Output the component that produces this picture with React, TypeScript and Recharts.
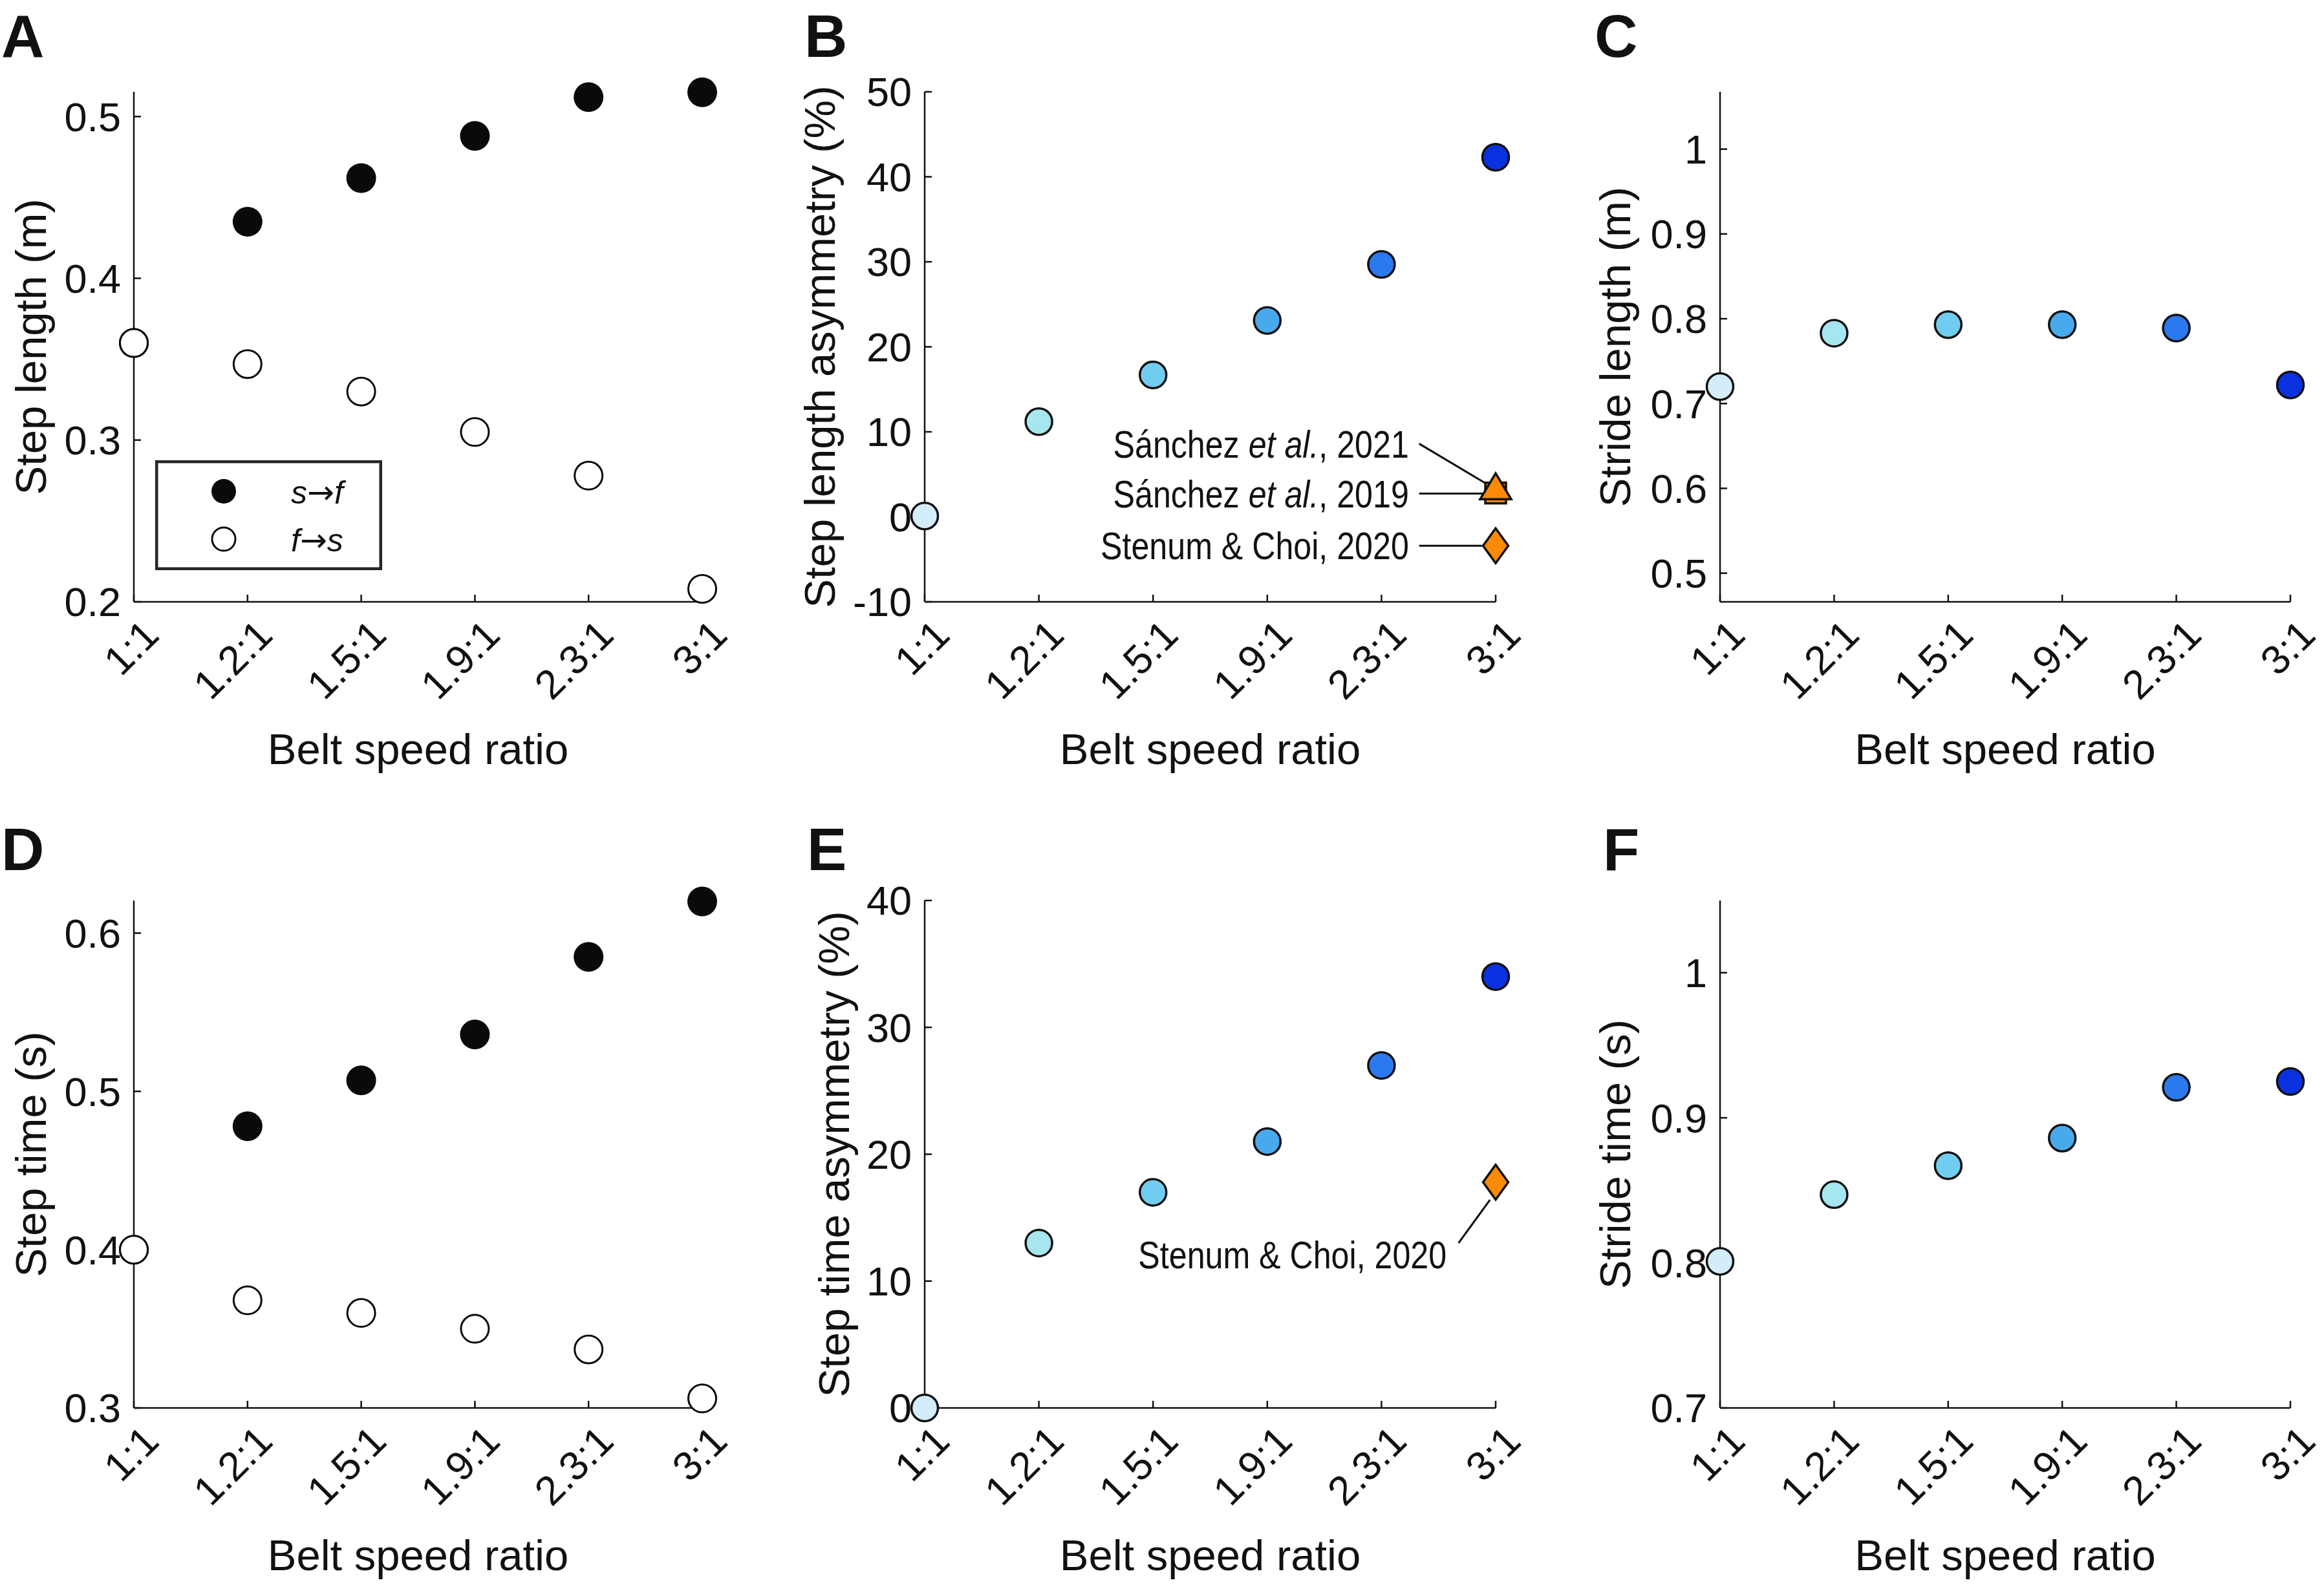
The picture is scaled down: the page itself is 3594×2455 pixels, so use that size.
import { ScatterChart, Scatter, XAxis, YAxis, ReferenceLine, Legend } from 'recharts';

const FONT = "'Liberation Sans', Arial, sans-serif";
const NARROW = "'Liberation Sans Narrow', 'Arial Narrow', 'Liberation Sans', sans-serif";
const INK = '#111';

// belt speed ratios (x categories) and their marker colours
const ratios = ['1:1', '1.2:1', '1.5:1', '1.9:1', '2.3:1', '3:1'];
const ratioColors = ['#d3edfa', '#a6e6ef', '#71cdf0', '#49a9ed', '#2a79ef', '#0a31e0'];
const xTicks = [1, 2, 3, 4, 5, 6];

// A: step length (m)
const stepLengthSF = [0.36, 0.435, 0.462, 0.488, 0.512, 0.515];
const stepLengthFS = [0.36, 0.347, 0.33, 0.305, 0.278, 0.208];
// B: step length asymmetry (%)
const stepLengthAsym = [0.1, 11.2, 16.7, 23.1, 29.7, 42.3];
// C: stride length (m)
const strideLength = [0.72, 0.783, 0.793, 0.793, 0.789, 0.722];
// D: step time (s)
const stepTimeSF = [0.4, 0.478, 0.507, 0.536, 0.585, 0.62];
const stepTimeFS = [0.4, 0.368, 0.36, 0.35, 0.337, 0.306];
// E: step time asymmetry (%)
const stepTimeAsym = [0, 13.0, 17.0, 21.0, 27.0, 34.0];
// F: stride time (s)
const strideTime = [0.801, 0.847, 0.867, 0.886, 0.921, 0.925];

// earlier studies, all at 3:1
const studies = ['Sánchez et al., 2021', 'Sánchez et al., 2019', 'Stenum & Choi, 2020'];
const studyMarkers = ['triangle', 'square', 'diamond'];
const studyStepLengthAsym = [3.6, 2.8, -3.4];
const studyStepTimeAsym = [null, null, 17.8];

// annotation anchors, in data units
const stepLengthNotes = [
  { study: 0, at: { x: 5.24, y: 8.6 }, line: [{ x: 5.33, y: 8.6 }, { x: 5.91, y: 3.96 }] },
  { study: 1, at: { x: 5.24, y: 2.74 }, line: [{ x: 5.33, y: 2.74 }, { x: 5.9, y: 2.74 }] },
  { study: 2, at: { x: 5.24, y: -3.4 }, line: [{ x: 5.33, y: -3.4 }, { x: 5.88, y: -3.4 }] },
];
const stepTimeNotes = [
  { study: 2, at: { x: 5.57, y: 12.1 }, line: [{ x: 5.675, y: 13.0 }, { x: 5.95, y: 16.4 }] },
];

const series = (vals: number[]) => vals.map((y, i) => ({ x: i + 1, y, color: ratioColors[i] }));
const studyPoints = (vals: (number | null)[], order: number[]) =>
  order.filter((i) => vals[i] != null).map((i) => ({ x: 6, y: vals[i], marker: studyMarkers[i] }));
const notePoints = (notes: typeof stepLengthNotes) =>
  notes.map((n) => ({ x: n.at.x, y: n.at.y, label: studies[n.study] }));

const filledDot = (p: any) => <circle cx={p.cx} cy={p.cy} r={23} fill="#0a0a0a" />;
const openDot = (p: any) => (
  <circle cx={p.cx} cy={p.cy} r={21.5} fill="#fff" stroke="#0a0a0a" strokeWidth={3} />
);
const colorDot = (p: any) => (
  <circle cx={p.cx} cy={p.cy} r={20.5} fill={p.payload.color} stroke={INK} strokeWidth={3.5} />
);

const studyShape = (p: any) => {
  const { cx, cy } = p;
  const style = { fill: '#fb8a06', stroke: INK, strokeWidth: 3.5, strokeLinejoin: 'miter' as const };
  if (p.payload.marker === 'square') {
    return <rect x={cx - 16} y={cy - 16} width={32} height={32} {...style} />;
  }
  if (p.payload.marker === 'triangle') {
    return <polygon points={`${cx},${cy - 20} ${cx + 24},${cy + 20} ${cx - 24},${cy + 20}`} {...style} />;
  }
  return <polygon points={`${cx},${cy - 27} ${cx + 19.5},${cy} ${cx},${cy + 27} ${cx - 19.5},${cy}`} {...style} />;
};

// the source uses a condensed face; squeeze horizontally around the right anchor
const noteText = (p: any) => {
  const [head, tail] = p.payload.label.split('et al.');
  return (
    <text
      transform={`translate(${p.cx},${p.cy}) scale(0.85,1)`}
      dy="0.36em"
      textAnchor="end"
      fontSize={59}
      fontFamily={NARROW}
      fill={INK}
    >
      {tail === undefined ? (
        head
      ) : (
        <>
          {head}
          <tspan fontStyle="italic">et al.</tspan>
          {tail}
        </>
      )}
    </text>
  );
};

const ratioTick = (p: any) => (
  <text
    transform={`translate(${p.x + 10},${p.y + 23}) rotate(-45)`}
    textAnchor="end"
    dy="0.72em"
    fontSize={63}
    fontFamily={FONT}
    fill={INK}
  >
    {ratios[p.payload.value - 1]}
  </text>
);

const arrow = { fontFamily: "'DejaVu Sans', sans-serif", fontStyle: 'normal' as const };

const StepLegend = () => (
  <svg width={351} height={170} style={{ display: 'block' }}>
    <rect x={2.25} y={2.25} width={346.5} height={165.5} fill="#fff" stroke="#262626" strokeWidth={4.5} />
    <circle cx={106} cy={48} r={19} fill="#0a0a0a" />
    <circle cx={106} cy={122} r={18} fill="#fff" stroke="#0a0a0a" strokeWidth={3} />
    <text x={210} y={67} fontSize={50} fontFamily={FONT} fill={INK}>
      <tspan fontStyle="italic">s</tspan>
      <tspan {...arrow}>→</tspan>
      <tspan fontStyle="italic">f</tspan>
    </text>
    <text x={210} y={141} fontSize={50} fontFamily={FONT} fill={INK}>
      <tspan fontStyle="italic">f</tspan>
      <tspan {...arrow}>→</tspan>
      <tspan fontStyle="italic">s</tspan>
    </text>
  </svg>
);

const TOP = 40;
const LEFT = 200;
const RIGHT = 110;
const XAXIS_H = 270;

function Panel({ plot, yDomain, yTicks, yLabel, yLabelOffset, children }: any) {
  return (
    <div style={{ position: 'absolute', left: plot.x - LEFT, top: plot.y - TOP }}>
      <ScatterChart
        width={LEFT + plot.w + RIGHT}
        height={TOP + plot.h + XAXIS_H + 30}
        margin={{ top: TOP, right: RIGHT, bottom: 30, left: 0 }}
      >
        <XAxis
          type="number"
          dataKey="x"
          domain={[1, 6]}
          ticks={xTicks}
          interval={0}
          height={XAXIS_H}
          tickSize={-11}
          tickMargin={11}
          axisLine={{ stroke: INK, strokeWidth: 2.5 }}
          tickLine={{ stroke: INK, strokeWidth: 2.5 }}
          tick={ratioTick}
          label={{ value: 'Belt speed ratio', position: 'insideBottom', offset: 19, fontSize: 67, fill: INK, fontFamily: FONT }}
        />
        <YAxis
          type="number"
          dataKey="y"
          domain={yDomain}
          ticks={yTicks}
          interval={0}
          width={LEFT}
          tickSize={-11}
          tickMargin={31}
          axisLine={{ stroke: INK, strokeWidth: 2.5 }}
          tickLine={{ stroke: INK, strokeWidth: 2.5 }}
          tick={{ fontSize: 63, fill: INK, fontFamily: FONT }}
          label={{
            value: yLabel,
            angle: -90,
            position: 'insideLeft',
            offset: yLabelOffset,
            fontSize: 67,
            fill: INK,
            fontFamily: FONT,
            style: { textAnchor: 'middle' },
          }}
        />
        {children}
      </ScatterChart>
    </div>
  );
}

const noteLines = (notes: typeof stepLengthNotes) =>
  notes.map((n, i) => (
    <ReferenceLine key={`n${i}`} segment={n.line} stroke={INK} strokeWidth={3} ifOverflow="visible" />
  ));

const letters = [
  { t: 'A', x: 2, y: 88 },
  { t: 'B', x: 1244, y: 88 },
  { t: 'C', x: 2466, y: 88 },
  { t: 'D', x: 2, y: 1346 },
  { t: 'E', x: 1248, y: 1346 },
  { t: 'F', x: 2479, y: 1346 },
];

export default function App() {
  return (
    <div
      style={{
        position: 'absolute',
        left: 0,
        top: 0,
        width: 3594,
        height: 2455,
        overflow: 'hidden',
        background: '#fff',
        fontFamily: FONT,
      }}
    >
      <Panel plot={{ x: 207, y: 142, w: 879, h: 789 }} yDomain={[0.2, 0.5153]} yTicks={[0.2, 0.3, 0.4, 0.5]} yLabel="Step length (m)" yLabelOffset={40}>
        <Scatter data={series(stepLengthSF)} shape={filledDot} isAnimationActive={false} />
        <Scatter data={series(stepLengthFS)} shape={openDot} isAnimationActive={false} />
        <Legend
          layout="vertical"
          align="center"
          verticalAlign="middle"
          wrapperStyle={{ left: 233, top: 610, width: 351, height: 170 }}
          content={() => <StepLegend />}
        />
      </Panel>

      <Panel plot={{ x: 1430, y: 142, w: 883, h: 789 }} yDomain={[-10, 50]} yTicks={[-10, 0, 10, 20, 30, 40, 50]} yLabel="Step length asymmetry (%)" yLabelOffset={37}>
        {noteLines(stepLengthNotes)}
        <Scatter data={series(stepLengthAsym)} shape={colorDot} isAnimationActive={false} />
        <Scatter data={studyPoints(studyStepLengthAsym, [1, 0, 2])} shape={studyShape} isAnimationActive={false} />
        <Scatter data={notePoints(stepLengthNotes)} shape={noteText} isAnimationActive={false} />
      </Panel>

      <Panel plot={{ x: 2660, y: 142, w: 882, h: 789 }} yDomain={[0.4662, 1.0676]} yTicks={[0.5, 0.6, 0.7, 0.8, 0.9, 1]} yLabel="Stride length (m)" yLabelOffset={37}>
        <Scatter data={series(strideLength)} shape={colorDot} isAnimationActive={false} />
      </Panel>

      <Panel plot={{ x: 207, y: 1393, w: 879, h: 785 }} yDomain={[0.3, 0.6206]} yTicks={[0.3, 0.4, 0.5, 0.6]} yLabel="Step time (s)" yLabelOffset={40}>
        <Scatter data={series(stepTimeSF)} shape={filledDot} isAnimationActive={false} />
        <Scatter data={series(stepTimeFS)} shape={openDot} isAnimationActive={false} />
      </Panel>

      <Panel plot={{ x: 1430, y: 1393, w: 883, h: 785 }} yDomain={[0, 40]} yTicks={[0, 10, 20, 30, 40]} yLabel="Step time asymmetry (%)" yLabelOffset={59}>
        {noteLines(stepTimeNotes)}
        <Scatter data={series(stepTimeAsym)} shape={colorDot} isAnimationActive={false} />
        <Scatter data={studyPoints(studyStepTimeAsym, [2])} shape={studyShape} isAnimationActive={false} />
        <Scatter data={notePoints(stepTimeNotes)} shape={noteText} isAnimationActive={false} />
      </Panel>

      <Panel plot={{ x: 2660, y: 1393, w: 882, h: 785 }} yDomain={[0.7, 1.0498]} yTicks={[0.7, 0.8, 0.9, 1]} yLabel="Stride time (s)" yLabelOffset={37}>
        <Scatter data={series(strideTime)} shape={colorDot} isAnimationActive={false} />
      </Panel>

      <svg width={3594} height={2455} style={{ position: 'absolute', left: 0, top: 0, pointerEvents: 'none' }}>
        {letters.map((l) => (
          <text key={l.t} x={l.x} y={l.y} fontSize={92} fontWeight="bold" fontFamily={FONT} fill={INK}>
            {l.t}
          </text>
        ))}
      </svg>
    </div>
  );
}
